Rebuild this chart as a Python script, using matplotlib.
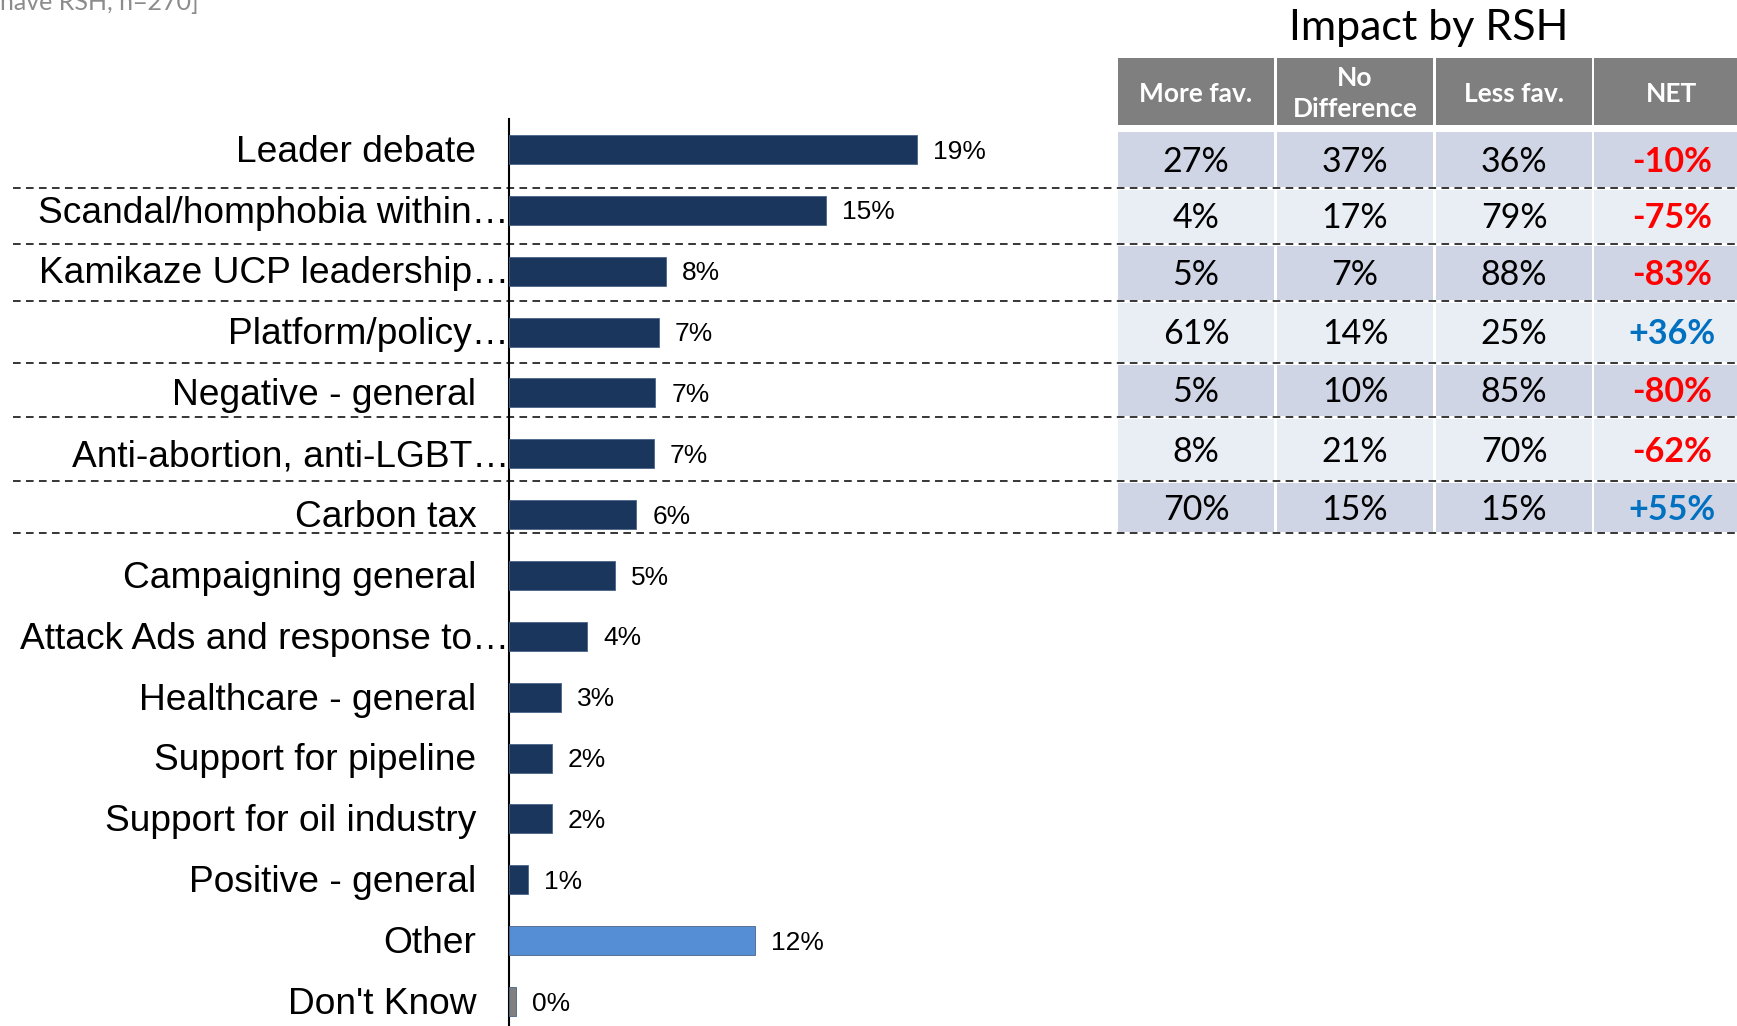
import matplotlib
matplotlib.use("Agg")
import matplotlib.pyplot as plt
from matplotlib.patches import Rectangle

# --- data ---
categories = ["Leader debate", "Scandal/homphobia within…", "Kamikaze UCP leadership…",
              "Platform/policy…", "Negative - general", "Anti-abortion, anti-LGBT…",
              "Carbon tax", "Campaigning general", "Attack Ads and response to…",
              "Healthcare - general", "Support for pipeline", "Support for oil industry",
              "Positive - general", "Other", "Don't Know"]
truncated = [False, True, True, True, False, True, False, False, True,
             False, False, False, False, False, False]
values = [19.25, 14.95, 7.4, 7.08, 6.9, 6.84, 6.0, 5.0, 3.7, 2.45, 2.03, 2.03, 0.9, 11.6, 0.33]
value_labels = ["19%", "15%", "8%", "7%", "7%", "7%", "6%", "5%", "4%", "3%",
                "2%", "2%", "1%", "12%", "0%"]
bar_colors = ["#1b365d"] * 13 + ["#558ed5", "#808080"]

table_title = "Impact by RSH"
table_cols = ["More fav.", "No\nDifference", "Less fav.", "NET"]
more_fav = ["27%", "4%", "5%", "61%", "5%", "8%", "70%"]
no_diff = ["37%", "17%", "7%", "14%", "10%", "21%", "15%"]
less_fav = ["36%", "79%", "88%", "25%", "85%", "70%", "15%"]
net = ["-10%", "-75%", "-83%", "+36%", "-80%", "-62%", "+55%"]

W, H = 1737, 1026
fig = plt.figure(figsize=(W / 100, H / 100), dpi=100)

# bar chart axes (pixel layout)
ax_left, ax_top, ax_bottom = 509, 119, 1032
ax_w = 28 * 21.2
ax = fig.add_axes([ax_left / W, 1 - ax_bottom / H, ax_w / W, (ax_bottom - ax_top) / H])
y = list(range(len(categories)))
bars = ax.barh(y, values, height=0.476, color=bar_colors, edgecolor="#4a6488",
               linewidth=0.6, zorder=3)
ax.set_xlim(0, 28)
ax.set_ylim(len(categories) - 0.5, -0.5)
for s in ["top", "right", "bottom"]:
    ax.spines[s].set_visible(False)
ax.spines["left"].set_linewidth(1.5)
ax.set_xticks([])
ax.set_yticks([])
ax.patch.set_alpha(0)

for i, (lab, tr) in enumerate(zip(categories, truncated)):
    off = 0 if tr else -23.5
    ax.annotate(lab, (0, i), xytext=(off, -2), textcoords="offset points",
                ha="right", va="center", fontsize=26.7, family="Liberation Sans",
                annotation_clip=False)
    ax.annotate(value_labels[i], (values[i], i), xytext=(11.5, -1.5), textcoords="offset points",
                ha="left", va="center", fontsize=19, family="Liberation Sans")

# overlay in pixel coordinates for table and separators
ov = fig.add_axes([0, 0, 1, 1])
ov.set_xlim(0, W)
ov.set_ylim(H, 0)
ov.axis("off")
ov.patch.set_alpha(0)

col_left = [1118, 1277, 1436, 1594]
col_w = 156
header_top, header_bot = 58, 125
row_lines = [130, 188, 244, 301, 363, 417, 481, 533]

ov.text(1429, 28, table_title, ha="center", va="center", fontsize=31, family="Lato")

for j, name in enumerate(table_cols):
    ov.add_patch(Rectangle((col_left[j], header_top), col_w, header_bot - header_top,
                           facecolor="#7f7f7f", edgecolor="none"))
    ov.text(col_left[j] + col_w / 2, (header_top + header_bot) / 2 + 2, name, ha="center",
            va="center", fontsize=19, fontweight="bold", color="white", family="Lato",
            linespacing=1.35)

cols = [more_fav, no_diff, less_fav, net]
for r in range(len(more_fav)):
    top = row_lines[r] + 2
    bot = row_lines[r + 1] - 1
    fc = "#cfd5e5" if r % 2 == 0 else "#e9edf4"
    for j in range(4):
        ov.add_patch(Rectangle((col_left[j], top), col_w, bot - top,
                               facecolor=fc, edgecolor="none"))
        txt = cols[j][r]
        if j == 3:
            color = "#0070c0" if txt.startswith("+") else "#ff0000"
            ov.text(col_left[j] + col_w / 2, (top + bot) / 2 + 2, txt, ha="center",
                    va="center", fontsize=24.5, fontweight="bold", color=color, family="Lato")
        else:
            ov.text(col_left[j] + col_w / 2, (top + bot) / 2 + 2, txt, ha="center",
                    va="center", fontsize=24.5, color="black", family="Lato")

for yl in row_lines[1:]:
    ov.plot([13, W], [yl, yl], color="black", lw=1.1, linestyle=(0, (5, 3.5)), zorder=5)

# cut-off base note at top-left
ov.text(199, 10, "have RSH, n=270]", ha="right", va="baseline", fontsize=18,
        color="#8c8c8c", family="Lato")

fig.savefig("out.png", dpi=100)
